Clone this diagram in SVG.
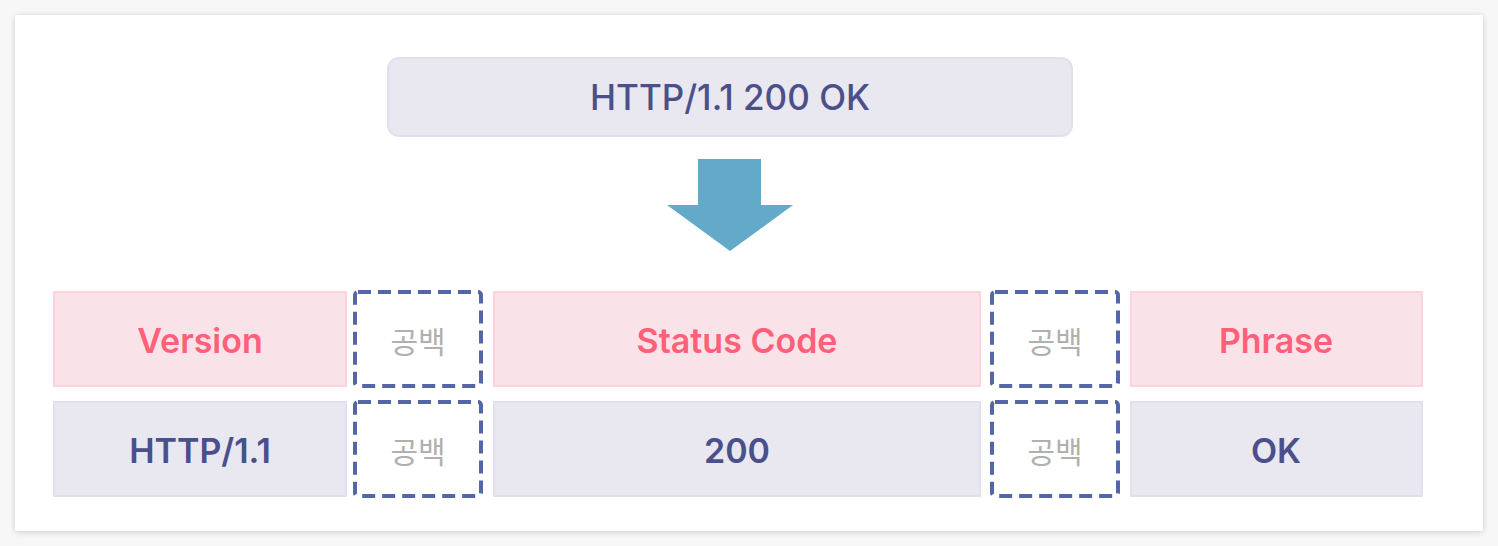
<svg xmlns="http://www.w3.org/2000/svg" width="1498" height="546" viewBox="0 0 1498 546">
<defs>
<filter id="sh" x="-5%" y="-5%" width="110%" height="110%">
<feGaussianBlur in="SourceAlpha" stdDeviation="3"/>
<feOffset dx="0" dy="1"/>
<feComponentTransfer><feFuncA type="linear" slope="0.18"/></feComponentTransfer>
<feMerge><feMergeNode/><feMergeNode in="SourceGraphic"/></feMerge>
</filter>
<style>
.lbl{font-family:Inter,"Noto Sans",sans-serif;font-weight:600;text-anchor:middle;dominant-baseline:central}
.pink{fill:#fae3e8;stroke:#ffd3db;stroke-width:2}
.gray{fill:#e9e7ef;stroke:#e0e0f0;stroke-width:2}
.dash{fill:#ffffff;stroke:#5566a8;stroke-width:4;stroke-dasharray:13 7}
.pt{fill:#ff6079;font-size:34px}
.gt{fill:#4b4f8a;font-size:34px}
.sp{font-family:"Noto Sans CJK KR","Noto Sans",sans-serif;font-weight:400;fill:#b0b0b0;font-size:30px;text-anchor:middle;dominant-baseline:central}
</style>
</defs>
<rect width="1498" height="546" fill="#f7f7f7"/>
<rect x="15" y="15" width="1468" height="516" rx="3" fill="#ffffff" filter="url(#sh)"/>
<g id="top">
<rect x="388" y="58" width="684" height="78" rx="11" class="gray"/>
<text x="730" y="97" class="lbl gt" style="font-weight:500;font-size:35px">HTTP/1.1 200 OK</text>
</g>
<g id="connectors">
<polygon points="698,159 761,159 761,205 793,205 730,251 667,205 698,205" fill="#63a9c8"/>
</g>
<g id="version-h"><rect x="54" y="292" width="292" height="94" class="pink"/><text x="200" y="340" class="lbl pt">Version</text></g>
<g id="space-h1"><rect x="355" y="292" width="126" height="94" rx="3" class="dash"/><text x="418" y="340" class="sp">공백</text></g>
<g id="status-h"><rect x="494" y="292" width="486" height="94" class="pink"/><text x="737" y="340" class="lbl pt">Status Code</text></g>
<g id="space-h2"><rect x="992" y="292" width="126" height="94" rx="3" class="dash"/><text x="1055" y="340" class="sp">공백</text></g>
<g id="phrase-h"><rect x="1131" y="292" width="291" height="94" class="pink"/><text x="1276" y="340" class="lbl pt">Phrase</text></g>
<g id="version-v"><rect x="54" y="402" width="292" height="94" class="gray"/><text x="200" y="450" class="lbl gt">HTTP/1.1</text></g>
<g id="space-v1"><rect x="355" y="402" width="126" height="94" rx="3" class="dash"/><text x="418" y="450" class="sp">공백</text></g>
<g id="status-v"><rect x="494" y="402" width="486" height="94" class="gray"/><text x="737" y="450" class="lbl gt">200</text></g>
<g id="space-v2"><rect x="992" y="402" width="126" height="94" rx="3" class="dash"/><text x="1055" y="450" class="sp">공백</text></g>
<g id="phrase-v"><rect x="1131" y="402" width="291" height="94" class="gray"/><text x="1276" y="450" class="lbl gt">OK</text></g>
</svg>
